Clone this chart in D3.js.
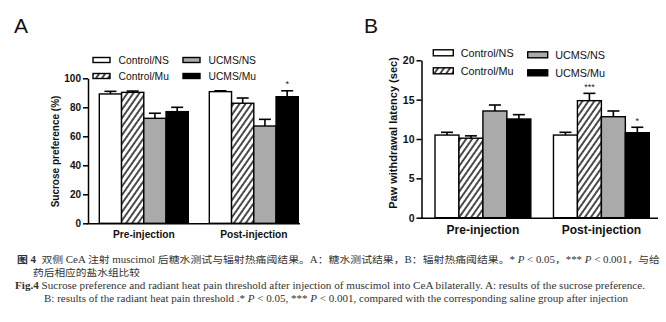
<!DOCTYPE html>
<html>
<head>
<meta charset="utf-8">
<script src="https://cdn.jsdelivr.net/npm/d3@7"></script>
<style>
  html, body { margin: 0; padding: 0; background: #fff; }
  svg { display: block; }
</style>
</head>
<body>
<svg id="chart" width="666" height="322"></svg>
<script>
// ---------- DATA ----------
const groups = ["Pre-injection", "Post-injection"];
const seriesNames = ["Control/NS", "Control/Mu", "UCMS/NS", "UCMS/Mu"];

// Panel A: Sucrose preference (%)
const sucroseMean = [[89.2, 90.3, 72.4, 77.0], [90.8, 82.8, 67.1, 87.3]];
const sucroseSEM  = [[1.8, 0.9, 3.5, 3.0], [0.6, 3.6, 4.6, 4.1]];
const sucroseSig  = [["", "", "", ""], ["", "", "", "*"]];
const sucroseTicks = [0, 20, 40, 60, 80, 100];

// Panel B: Paw withdrawal latency (sec)
const latencyMean = [[10.5, 10.1, 13.56, 12.54], [10.5, 14.87, 12.83, 10.8]];
const latencySEM  = [[0.35, 0.3, 0.76, 0.55], [0.35, 0.93, 0.73, 0.69]];
const latencySig  = [["", "", "", ""], ["", "***", "", "*"]];
const latencyTicks = [0, 5, 10, 15, 20];

// ---------- DRAW ----------
const svg = d3.select("#chart");
svg.append("rect").attr("width", 666).attr("height", 322).attr("fill", "#fff");

const defs = svg.append("defs");
const pat = defs.append("pattern")
  .attr("id", "hatch").attr("patternUnits", "userSpaceOnUse")
  .attr("width", 4.9).attr("height", 10)
  .attr("patternTransform", "rotate(35)");
pat.append("rect").attr("width", 4.9).attr("height", 10).attr("fill", "#fff");
pat.append("line").attr("x1", 1).attr("y1", 0).attr("x2", 1).attr("y2", 10)
  .attr("stroke", "#000").attr("stroke-width", 1.4);

const fills = ["#ffffff", "url(#hatch)", "#aaaaaa", "#000000"];
const SANS = "'Liberation Sans', Arial, sans-serif";

function drawPanel(o) {
  const g = svg.append("g");
  const y = d3.scaleLinear().domain(o.domain).range([o.y0, o.y1]);
  const x0 = d3.scaleBand().domain(groups).range([o.barL, o.barR]).paddingInner(0.191).paddingOuter(0);
  const x1 = d3.scaleBand().domain(seriesNames).range([0, x0.bandwidth()]).padding(0);

  // bars
  groups.forEach((grp, gi) => {
    seriesNames.forEach((s, si) => {
      const v = o.mean[gi][si], e = o.sem[gi][si];
      const bx = x0(grp) + x1(s);
      const bw = x1.bandwidth();
      g.append("rect")
        .attr("x", bx).attr("y", y(v))
        .attr("width", bw).attr("height", y(0) - y(v))
        .attr("fill", fills[si]).attr("stroke", "#000").attr("stroke-width", 1.4);
      const cx = bx + bw / 2;
      g.append("line").attr("x1", cx).attr("x2", cx).attr("y1", y(v)).attr("y2", y(v + e))
        .attr("stroke", "#000").attr("stroke-width", 1.6);
      g.append("line").attr("x1", cx - o.cap / 2).attr("x2", cx + o.cap / 2)
        .attr("y1", y(v + e)).attr("y2", y(v + e))
        .attr("stroke", "#000").attr("stroke-width", 1.6);
      const sig = o.sig[gi][si];
      if (sig) {
        g.append("text").attr("x", cx).attr("y", y(v + e) - 3.5)
          .attr("text-anchor", "middle").attr("font-family", SANS)
          .attr("font-size", 9).attr("fill", "#222").text(sig);
      }
    });
  });

  // y axis
  const ya = g.append("g").attr("transform", `translate(${o.axisX},0)`)
    .call(d3.axisLeft(y).tickValues(o.ticks).tickSize(5).tickSizeOuter(0).tickPadding(2));
  ya.select(".domain").attr("stroke", "#000").attr("stroke-width", 1.5);
  ya.selectAll(".tick line").attr("stroke", "#000").attr("stroke-width", 1.5);
  ya.selectAll(".tick text").attr("font-family", SANS).attr("font-weight", "bold")
    .attr("font-size", o.tickFont).attr("fill", "#111");

  // x axis line
  g.append("line").attr("x1", o.axisX - 0.75).attr("x2", o.xEnd)
    .attr("y1", y(0) + 0.5).attr("y2", y(0) + 0.5)
    .attr("stroke", "#000").attr("stroke-width", 1.5);
  const xa = g.append("g").attr("transform", `translate(0,${y(0)})`)
    .call(d3.axisBottom(x0).tickSize(0).tickPadding(o.xPad));
  xa.select(".domain").remove();
  xa.selectAll(".tick text").attr("font-family", SANS).attr("font-weight", "bold")
    .attr("font-size", o.xFont).attr("fill", "#111");

  // y title
  g.append("text")
    .attr("transform", `translate(${o.titleX},${o.titleY}) rotate(-90)`)
    .attr("text-anchor", "middle").attr("dominant-baseline", "central")
    .attr("font-family", SANS).attr("font-weight", "bold")
    .attr("font-size", o.titleFont).attr("fill", "#111").text(o.title);

  // panel letter
  g.append("text").attr("x", o.letterX).attr("y", 33)
    .attr("font-family", SANS).attr("font-size", 21).attr("fill", "#111").text(o.letter);

  // legend
  seriesNames.forEach((s, si) => {
    const col = si < 2 ? 0 : 1;
    const row = si % 2;
    const lx = o.legX[col];
    const ly = o.legY[col] + row * o.legDy;
    g.append("rect").attr("x", lx).attr("y", ly - o.swH / 2)
      .attr("width", o.swW).attr("height", o.swH)
      .attr("fill", fills[si]).attr("stroke", "#000").attr("stroke-width", 1.4);
    g.append("text").attr("x", lx + o.swW + o.legGap).attr("y", ly)
      .attr("dominant-baseline", "central")
      .attr("font-family", SANS).attr("font-size", o.legFont).attr("fill", "#111").text(s);
  });
}

drawPanel({
  domain: [0, 100], y0: 223.3, y1: 78.3, barL: 99.3, barR: 298.3, axisX: 88, xEnd: 300,
  mean: sucroseMean, sem: sucroseSEM, sig: sucroseSig, ticks: sucroseTicks, cap: 12,
  tickFont: 10, xFont: 10.2, xPad: 7, titleFont: 10, titleX: 55, titleY: 151.5,
  title: "Sucrose preference (%)", letter: "A", letterX: 14,
  legX: [93, 183], legY: [60, 60], legDy: 16, swW: 17, swH: 5, legGap: 8.5, legFont: 10.3
});

drawPanel({
  domain: [0, 20], y0: 217.7, y1: 60.3, barL: 435, barR: 649.3, axisX: 421.5, xEnd: 658,
  mean: latencyMean, sem: latencySEM, sig: latencySig, ticks: latencyTicks, cap: 12,
  tickFont: 10.5, xFont: 12, xPad: 8, titleFont: 11, titleX: 393, titleY: 133,
  title: "Paw withdrawal latency (sec)", letter: "B", letterX: 364,
  legX: [433.3, 527.7], legY: [52.8, 54.8], legDy: 18, swW: 20, swH: 6, legGap: 7.5, legFont: 10.8
});

// ---------- CAPTION ----------
const SERIF = "'Liberation Serif', 'Times New Roman', serif";
const CJK = "'Liberation Serif', 'Noto Sans CJK SC', serif";
const cap = svg.append("g").attr("fill", "#333");

function capLine(x, yb, len, parts, size) {
  const t = cap.append("text").attr("x", x).attr("y", yb)
    .attr("font-family", CJK).attr("font-size", size)
    .attr("textLength", len).attr("lengthAdjust", "spacingAndGlyphs")
    .attr("xml:space", "preserve");
  parts.forEach(p => {
    const ts = t.append("tspan").text(p.t);
    if (p.b) ts.attr("font-weight", "bold");
    if (p.i) ts.attr("font-style", "italic");
  });
}

capLine(17, 262.5, 643, [
  {t: "图 4", b: true},
  {t: "  双侧 CeA 注射 muscimol 后糖水测试与辐射热痛阈结果。A：糖水测试结果，B：辐射热痛阈结果。* "},
  {t: "P", i: true}, {t: " < 0.05，*** "}, {t: "P", i: true}, {t: " < 0.001，与给"}
], 9.6);
capLine(33, 275.5, 107, [{t: "药后相应的盐水组比较"}], 9.6);
capLine(15, 288.5, 630, [
  {t: "Fig.4", b: true},
  {t: " Sucrose preference and radiant heat pain threshold after injection of muscimol into CeA bilaterally. A: results of the sucrose preference."}
], 10);
capLine(44, 301.5, 584, [
  {t: "B: results of the radiant heat pain threshold .* "}, {t: "P", i: true},
  {t: " < 0.05, *** "}, {t: "P", i: true},
  {t: " < 0.001, compared with the corresponding saline group after injection"}
], 10);
</script>
</body>
</html>
